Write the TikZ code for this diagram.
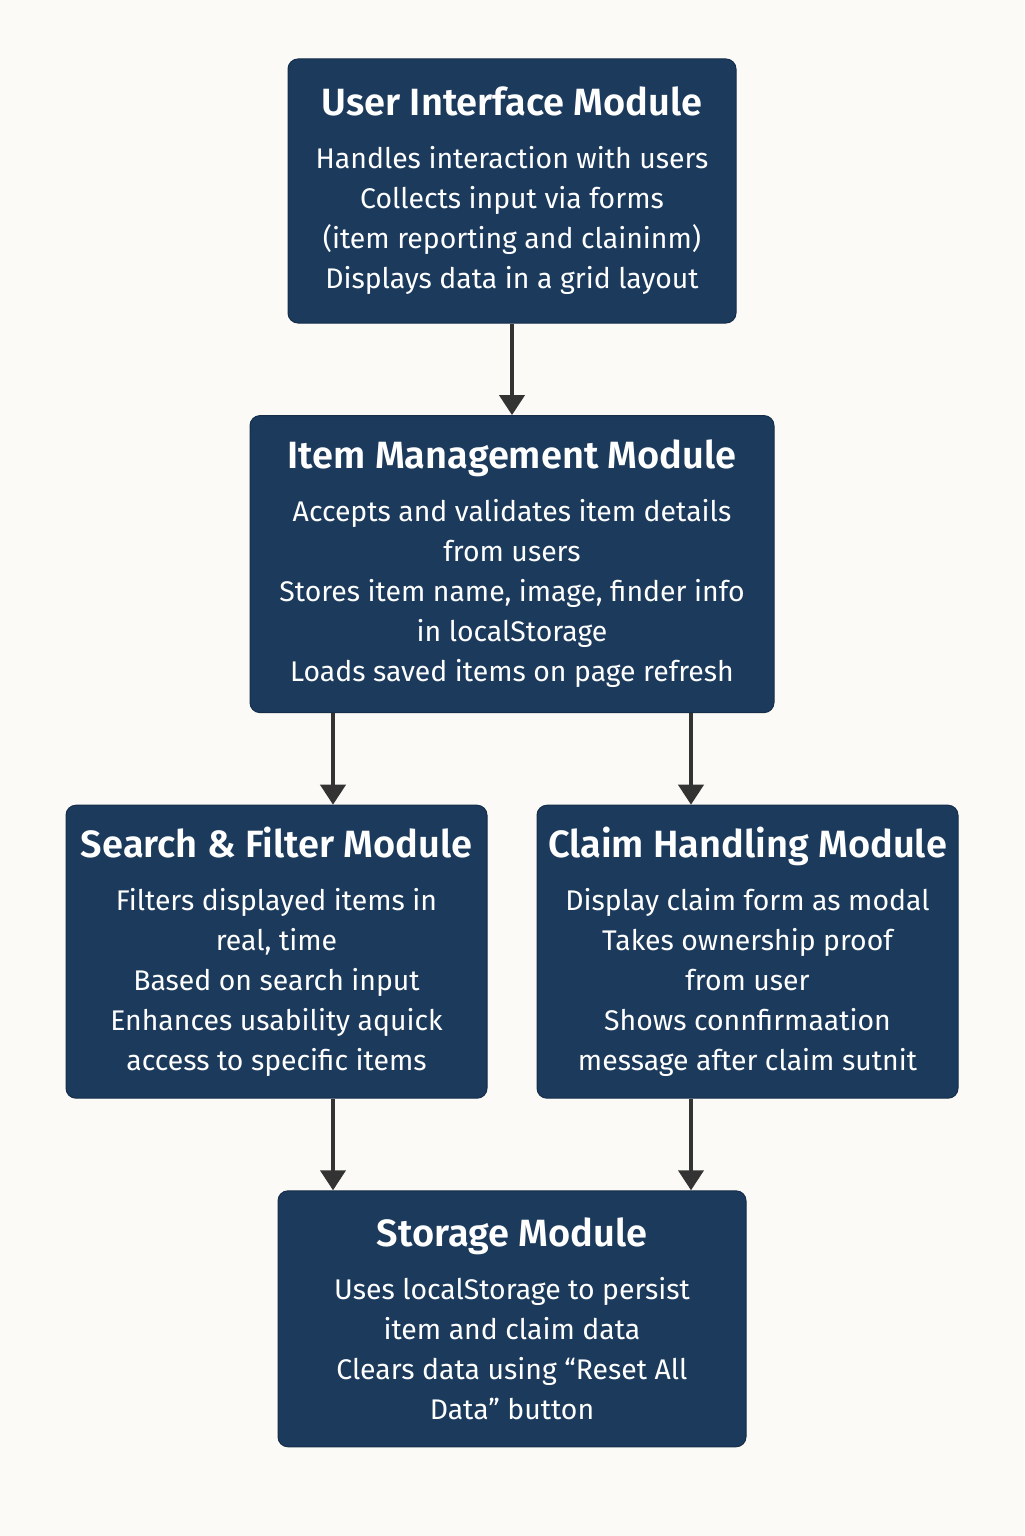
\documentclass[tikz,border=0pt]{standalone}
\usepackage{fontspec}
\setmainfont{Fira Sans}
\newfontfamily\titlefont{Fira Sans SemiBold}
\usetikzlibrary{arrows.meta}
\usetikzlibrary{positioning}
\definecolor{navy}{HTML}{1B3A5C}
\definecolor{paper}{HTML}{FCFAF6}
\definecolor{arrowgray}{HTML}{333333}
\tikzstyle{module} = [rectangle, rounded corners=5pt, fill=navy, draw=navy!80!black, line width=0.5pt, text=white, align=center, inner sep=0pt, font=\fontsize{14.2}{20}\selectfont]
\tikzstyle{flow} = [-{Triangle[width=12.5pt,length=10pt]}, line width=2pt, draw=arrowgray]
\newcommand{\modtitle}[1]{{\fontsize{19}{20}\titlefont #1}\\[6.5pt]}

\begin{document}
\begin{tikzpicture}[x=0.5pt, y=-0.5pt, node distance=45.8pt]

\fill[paper] (0,0) rectangle (1024,1536);
\useasboundingbox (0,0) rectangle (1024,1536);

\coordinate (lcol) at (333,0);
\coordinate (rcol) at (691,0);

\node (ui) [module, minimum width=224pt, minimum height=132pt] at (512,191) {
  \modtitle{User Interface Module}
  Handles interaction with users\\
  Collects input via forms\\
  (item reporting and claininm)\\
  Displays data in a grid layout};

\node (item) [module, minimum width=262pt, minimum height=148.5pt, below=of ui] {
  \modtitle{Item Management Module}
  Accepts and validates item details\\
  from users\\
  Stores item name, image, finder info\\
  in localStorage\\
  Loads saved items on page refresh};

\node (search) [module, minimum width=210.5pt, minimum height=146.5pt, below=of item, xshift=-117.75pt] {
  \modtitle{Search \& Filter Module}
  Filters displayed items in\\
  real, time\\
  Based on search input\\
  Enhances usability aquick\\
  access to specific items};

\node (claim) [module, minimum width=210.5pt, minimum height=146.5pt, below=of item, xshift=117.75pt] {
  \modtitle{Claim Handling Module}
  Display claim form as modal\\
  Takes ownership proof\\
  from user\\
  Shows connfirmaation\\
  message after claim sutnit};

\node (store) [module, minimum width=234pt, minimum height=128pt, below=of search, xshift=117.75pt] {
  \modtitle{Storage Module}
  Uses localStorage to persist\\
  item and claim data\\
  Clears data using “Reset All\\
  Data” button};

\draw[flow] (ui) -- (item);
\draw[flow] (item.south -| lcol) -- (search.north -| lcol);
\draw[flow] (item.south -| rcol) -- (claim.north -| rcol);
\draw[flow] (search.south -| lcol) -- (store.north -| lcol);
\draw[flow] (claim.south -| rcol) -- (store.north -| rcol);
\end{tikzpicture}
\end{document}
